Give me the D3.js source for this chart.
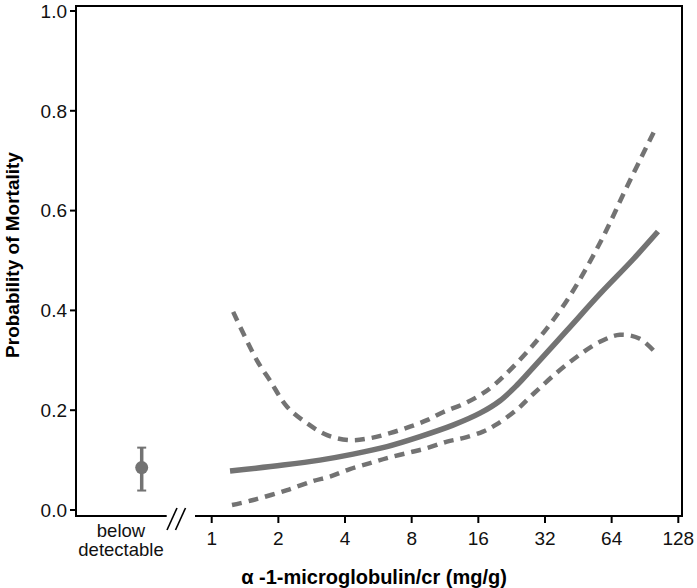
<!DOCTYPE html>
<html><head><meta charset="utf-8">
<script src="https://cdn.jsdelivr.net/npm/d3@7/dist/d3.min.js"></script>
<style>body{margin:0;background:#fff}svg{display:block}text{font-family:"Liberation Sans",Arial,sans-serif}</style>
</head><body>
<svg id="c" width="697" height="588"></svg>
<script>
const xTicks = [1, 2, 4, 8, 16, 32, 64, 128];
const yTicks = [0, 0.2, 0.4, 0.6, 0.8, 1.0];
const estT = [1.21, 2.10, 3.08, 4.35, 6.19, 8.72, 12.29, 16.27, 20.04, 24.0, 28.23, 40.21, 56.66, 79.87, 103.6];
const estV = [0.078, 0.090, 0.100, 0.112, 0.127, 0.147, 0.170, 0.194, 0.219, 0.251, 0.285, 0.360, 0.433, 0.502, 0.558];
const upT = [1.25, 1.60, 1.83, 2.19, 2.69, 3.32, 4.21, 5.19, 6.38, 7.86, 9.38, 11.08, 13.64, 16.27, 19.02, 28.23, 40.21, 56.66, 75.04, 100.4];
const upV = [0.397, 0.300, 0.260, 0.207, 0.174, 0.150, 0.140, 0.144, 0.154, 0.167, 0.180, 0.196, 0.212, 0.230, 0.252, 0.330, 0.420, 0.535, 0.648, 0.762];
const loT = [1.235, 1.54, 2.19, 2.87, 3.42, 4.21, 5.19, 6.19, 7.62, 9.38, 11.55, 13.64, 16.79, 19.42, 24.0, 28.23, 40.21, 56.66, 69.77, 85.88, 102.5];
const loV = [0.010, 0.020, 0.040, 0.058, 0.067, 0.082, 0.094, 0.104, 0.114, 0.124, 0.137, 0.144, 0.157, 0.172, 0.202, 0.232, 0.292, 0.337, 0.351, 0.343, 0.312];
const belowLabel = ["below", "detectable"];
const belowEst = 0.085, belowLo = 0.039, belowHi = 0.125;

const svg = d3.select("#c");
const gray = "#737373";
const x = d3.scaleLog().base(2).domain([1, 128]).range([211.7, 678.3]);
const y = d3.scaleLinear().domain([0, 1]).range([510, 11]);
const L = 76, R = 682, T = 6, B = 516;

// frame
svg.append("line").attr("x1", L).attr("x2", R).attr("y1", T).attr("y2", T).attr("stroke", "#000").attr("stroke-width", 2);
svg.append("line").attr("x1", R).attr("x2", R).attr("y1", T - 1).attr("y2", B + 1).attr("stroke", "#000").attr("stroke-width", 2);
svg.append("line").attr("x1", L).attr("x2", L).attr("y1", T - 1).attr("y2", B + 1).attr("stroke", "#000").attr("stroke-width", 2);
svg.append("line").attr("x1", L - 1).attr("x2", 166.7).attr("y1", B).attr("y2", B).attr("stroke", "#000").attr("stroke-width", 2);
svg.append("line").attr("x1", 195).attr("x2", R + 1).attr("y1", B).attr("y2", B).attr("stroke", "#000").attr("stroke-width", 2);
// break marks
[[167, 530, 177, 508], [175.5, 530, 185.5, 508]].forEach(s => {
  svg.append("line").attr("x1", s[0]).attr("y1", s[1]).attr("x2", s[2]).attr("y2", s[3]).attr("stroke", "#000").attr("stroke-width", 1.6);
});

// y axis ticks
const yg = svg.append("g");
yTicks.forEach(t => {
  yg.append("line").attr("x1", L - 6).attr("x2", L).attr("y1", y(t)).attr("y2", y(t)).attr("stroke", "#000").attr("stroke-width", 2);
  yg.append("text").attr("x", 67).attr("y", y(t)).attr("dy", "0.36em").attr("text-anchor", "end")
    .attr("font-size", 19).attr("fill", "#111").text(d3.format(".1f")(t));
});
// x axis ticks
const xg = svg.append("g");
xTicks.forEach(t => {
  xg.append("line").attr("x1", x(t)).attr("x2", x(t)).attr("y1", B).attr("y2", B + 7).attr("stroke", "#000").attr("stroke-width", 2);
  xg.append("text").attr("x", x(t)).attr("y", 544.5).attr("text-anchor", "middle")
    .attr("font-size", 19).attr("fill", "#111").text(t);
});
// below detectable label
belowLabel.forEach((s, i) => {
  svg.append("text").attr("x", 121).attr("y", 536.5 + i * 19.5).attr("text-anchor", "middle")
    .attr("font-size", 18.5).attr("fill", "#111").text(s);
});

// axis titles
svg.append("text").attr("transform", "translate(19,255) rotate(-90)").attr("text-anchor", "middle")
  .attr("font-size", 19).attr("font-weight", "bold").attr("fill", "#000").text("Probability of Mortality");
svg.append("text").attr("x", 374).attr("y", 584).attr("text-anchor", "middle")
  .attr("font-size", 20).attr("font-weight", "bold").attr("fill", "#000").text("α -1-microglobulin/cr (mg/g)");

// curves
const line = d3.line().x(d => x(d[0])).y(d => y(d[1])).curve(d3.curveCatmullRom.alpha(0.5));
svg.append("path").datum(upT.map((t, i) => [t, upV[i]])).attr("d", line).attr("fill", "none")
  .attr("stroke", gray).attr("stroke-width", 4.5).attr("stroke-dasharray", "10,7");
svg.append("path").datum(loT.map((t, i) => [t, loV[i]])).attr("d", line).attr("fill", "none")
  .attr("stroke", gray).attr("stroke-width", 4.5).attr("stroke-dasharray", "10,7");
svg.append("path").datum(estT.map((t, i) => [t, estV[i]])).attr("d", line).attr("fill", "none")
  .attr("stroke", gray).attr("stroke-width", 5.5);

// below detectable point
const bx = 141.7;
svg.append("line").attr("x1", bx).attr("x2", bx).attr("y1", y(belowLo)).attr("y2", y(belowHi)).attr("stroke", gray).attr("stroke-width", 3.5);
[belowLo, belowHi].forEach(v => svg.append("line").attr("x1", bx - 4.5).attr("x2", bx + 4.5).attr("y1", y(v)).attr("y2", y(v)).attr("stroke", gray).attr("stroke-width", 2));
svg.append("circle").attr("cx", bx).attr("cy", y(belowEst)).attr("r", 6.5).attr("fill", gray);
</script>
</body></html>
